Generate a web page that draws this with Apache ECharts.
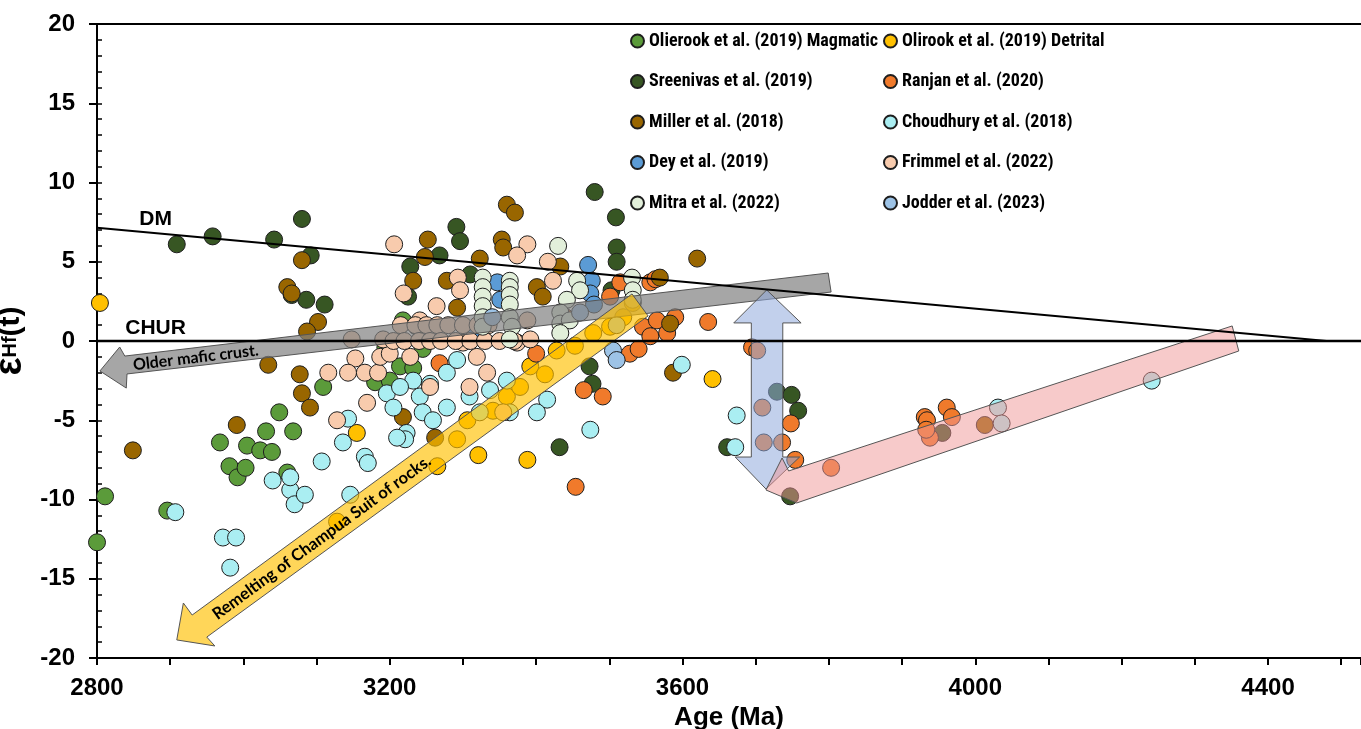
<!DOCTYPE html>
<html>
<head>
<meta charset="utf-8">
<script src="https://cdn.jsdelivr.net/npm/echarts@6/dist/echarts.min.js"></script>
<style>
  html, body { margin: 0; padding: 0; background: #fff; }
  #chart { width: 1361px; height: 729px; }
</style>
</head>
<body>
<div id="chart"></div>
<script>
// εHf(t) vs age: [age Ma, εHf]
const magmatic = [[2800,-12.7],[2811,-9.8],[2896,-10.7],[2968,-6.4],[2981,-7.9],[2992,-8.6],[3003,-8.0],[3005,-6.6],[3023,-6.9],[3031,-5.7],[3039,-7.0],[3049,-4.5],[3060,-8.3],[3068,-5.7],[3109,-2.9],[3180,-2.6],[3194,-0.4],[3214,-1.6],[3200,-2.5],[3232,-1.7],[3218,1.3],[3245,-0.5]]
const detrital = [[2804,2.4],[3155,-5.8],[3128,-11.4],[3265,-7.9],[3321,-7.2],[3388,-7.5],[3641,-2.4],[3292,-6.2],[3306,-5.0],[3341,-4.4],[3360,-3.5],[3378,-2.9],[3392,-1.6],[3412,-2.1],[3428,-0.6],[3453,-0.3],[3478,0.5],[3501,0.9],[3519,1.5],[3532,2.4]]
const sreenivas = [[2909,6.1],[2958,6.6],[3042,6.4],[3080,7.7],[3092,5.4],[3066,2.9],[3086,2.6],[3111,2.3],[3228,4.7],[3291,7.2],[3296,6.3],[3268,5.4],[3310,4.2],[3480,9.4],[3509,7.8],[3510,5.9],[3510,5.0],[3503,3.2],[3473,-1.6],[3477,-2.7],[3432,-6.7],[3661,-6.7],[3729,-3.2],[3749,-3.4],[3758,-4.4],[3747,-9.8],[3955,-5.8],[3225,2.8],[3237,0.9]]
const ranjan = [[3454,-9.2],[3465,-3.1],[3491,-3.5],[3635,1.2],[3695,-0.4],[3702,-0.6],[3709,-4.2],[3711,-6.4],[3736,-6.4],[3748,-5.2],[3754,-7.5],[3803,-8.0],[3931,-4.8],[3934,-5.0],[3961,-4.2],[3968,-4.8],[3938,-6.1],[3933,-5.6],[3515,3.7],[3501,2.8],[3546,0.9],[3565,1.3],[3579,0.5],[3556,0.3],[3528,-0.8],[3556,3.7],[3563,3.9],[3268,-1.4],[3540,-0.5],[3590,1.5],[3400,-0.8],[3440,1.5]]
const miller = [[2849,-6.9],[2991,-5.3],[3034,-1.5],[3080,5.1],[3060,3.4],[3066,3.0],[3102,1.2],[3087,0.6],[3077,-2.1],[3080,-3.3],[3091,-4.2],[3360,8.6],[3371,8.1],[3252,6.4],[3248,5.3],[3232,3.8],[3353,6.4],[3355,5.9],[3323,5.2],[3433,4.7],[3401,3.4],[3409,2.8],[3278,3.8],[3292,2.1],[3569,4.0],[3583,1.1],[3587,-2.0],[3218,-4.8],[3262,-6.1],[3620,5.2],[4013,-5.3]]
const choudhury = [[2907,-10.8],[2972,-12.4],[2990,-12.4],[2982,-14.3],[3040,-8.8],[3064,-9.4],[3070,-10.3],[3084,-9.7],[3146,-9.7],[3143,-4.9],[3136,-6.4],[3107,-7.6],[3064,-8.6],[3166,-7.3],[3170,-7.7],[3196,-3.3],[3205,-4.2],[3223,-5.8],[3241,-3.5],[3255,-2.7],[3278,-2.0],[3292,-1.2],[3278,-4.2],[3309,-3.5],[3323,-4.5],[3337,-3.1],[3360,-2.5],[3364,-4.5],[3415,-3.7],[3401,-4.5],[3474,-5.6],[3599,-1.5],[3674,-4.7],[3672,-6.7],[4031,-4.2],[4036,-5.2],[4241,-2.5],[3232,-2.5],[3214,-2.9],[3245,-4.5],[3259,-5.0],[3221,-6.2],[3210,-6.1]]
const dey = [[3471,4.8],[3476,3.8],[3474,3.0],[3347,3.7],[3351,2.6],[3333,1.1],[3317,0.7],[3479,2.3]]
const frimmel = [[3206,6.1],[3219,3.0],[3388,6.1],[3416,5.0],[3374,5.4],[3153,-1.1],[3143,-2.0],[3116,-2.0],[3166,-2.0],[3184,-2.0],[3128,-5.0],[3169,-3.9],[3187,-1.0],[3293,4.0],[3296,3.2],[3264,2.2],[3423,3.8],[3241,1.3],[3200,-0.8],[3228,-1.0],[3300,-0.1],[3319,-1.0],[3333,-2.0],[3374,-0.1],[3392,0.1],[3388,1.3],[3309,-2.9],[3255,-2.9],[3355,-4.5],[3215,1.0],[3235,1.0],[3250,1.0],[3265,1.0],[3280,1.0],[3300,1.0],[3320,1.0],[3335,1.0],[3148,0.1],[3191,0.1],[3205,0.0],[3220,0.0],[3240,0.0],[3255,0.0],[3270,0.0],[3290,0.0],[3310,0.0],[3330,0.0],[3350,0.0],[3370,0.0]]
const mitra = [[3430,6.0],[3327,4.0],[3327,3.4],[3327,2.8],[3327,2.2],[3327,1.5],[3327,0.9],[3364,3.8],[3364,3.4],[3364,2.9],[3364,2.3],[3364,1.5],[3367,0.9],[3364,0.1],[3456,3.8],[3460,3.2],[3442,2.6],[3433,1.8],[3433,1.1],[3446,1.3],[3433,0.5],[3531,4.0],[3532,3.2],[3532,2.6]]
const jodder = [[3505,-0.6],[3510,-1.2],[3510,1.0],[3340,1.5],[3460,1.8]]

const seriesNames = ['Olierook et al. (2019) Magmatic', 'Olirook et al. (2019) Detrital', 'Sreenivas et al. (2019)', 'Ranjan et al. (2020)', 'Miller et al. (2018)', 'Choudhury et al. (2018)', 'Dey et al. (2019)', 'Frimmel et al. (2022)', 'Mitra et al. (2022)', 'Jodder et al. (2023)']
const seriesData = [magmatic, detrital, sreenivas, ranjan, miller, choudhury, dey, frimmel, mitra, jodder]
const seriesColors = ['#5b9b3a', '#ffc000', '#375623', '#f07a2b', '#996600', '#aaeef2', '#5b9bd5', '#f8cbad', '#e2efda', '#9dc3e6']

// reference lines
const dmLine = [[2800, 7.15], [4480, 0]]
const churLine = [[2800, 0], [4527, 0]]

// annotation arrows, outlined in data units
const grayArrow = [[3799,4.29],[3803,3.09],[2841,-2.08],[2840,-2.97],[2804,-1.89],[2831,-0.38],[2838,-0.95]]
const yellowArrow = [[2909,-18.86],[2961,-19.24],[2950,-18.68],[3553,1.58],[3531,2.97],[2930,-17.29],[2918,-16.53]]
const blueArrow = [[3715,3.22],[3762,1.14],[3737,1.14],[3737,-7.32],[3760,-7.32],[3714,-9.34],[3672,-7.32],[3694,-7.32],[3694,1.14],[3670,1.14]]
const pinkArrow = [[3714,-9.40],[3736,-7.38],[3745,-8.20],[4351,0.95],[4360,-0.63],[3756,-10.22]]

const chart = echarts.init(document.getElementById('chart'))

const boldFont = "'Liberation Sans', Arial, sans-serif"
const legendFont = "Roboto, 'Open Sans', 'Noto Sans', sans-serif"

const scatterSeries = seriesNames.map((name, i) => ({
  name,
  type: 'scatter',
  data: seriesData[i],
  symbolSize: 17,
  itemStyle: { color: seriesColors[i], borderColor: '#1e1e1e', borderWidth: 1, opacity: 1 },
  z: 2
}))

const annotations = {
  type: 'custom',
  data: [[2800, 0]],
  silent: true,
  z: 3,
  renderItem: (params, api) => {
    const poly = (pts, fill) => ({
      type: 'polygon',
      shape: { points: pts.map(p => api.coord(p)) },
      style: { fill, stroke: '#555', lineWidth: 1 }
    })
    const slope = (a, b) => {
      const p = api.coord(a), q = api.coord(b)
      return Math.atan2(p[1] - q[1], q[0] - p[0])
    }
    const label = (pos, text, size, rot, family) => {
      const p = api.coord(pos)
      return {
        type: 'text', x: p[0], y: p[1], rotation: rot || 0,
        style: { text, fill: '#000', font: `bold ${size}px ${family}`, align: 'center', verticalAlign: 'middle' }
      }
    }
    return {
      type: 'group',
      children: [
        poly(grayArrow, 'rgba(128,128,128,0.7)'),
        poly(yellowArrow, 'rgba(255,192,0,0.65)'),
        poly(blueArrow, 'rgba(143,170,220,0.55)'),
        poly(pinkArrow, 'rgba(240,150,150,0.5)'),
        label([2935, -1.05], 'Older mafic crust.', 16, slope(grayArrow[6], grayArrow[0]), 'Lato, sans-serif'),
        label([3107, -12.4], 'Remelting of Champua Suit of rocks.', 16.5, slope(yellowArrow[5], yellowArrow[4]), 'Lato, sans-serif'),
        label([2880, 7.7], 'DM', 21, 0, boldFont),
        label([2880, 0.82], 'CHUR', 21, 0, boldFont)
      ]
    }
  }
}

const legendText = { fontFamily: legendFont, fontWeight: 'bold condensed', fontSize: 18, lineHeight: 22, color: '#000' }

chart.setOption({
  animation: false,
  backgroundColor: '#fff',
  grid: { left: 97, right: 0, top: 24, bottom: 71, outerBoundsMode: 'none', containLabel: false },
  legend: [
    {
      orient: 'vertical', left: 625, top: 25, itemGap: 18.5,
      itemWidth: 13, itemHeight: 13, icon: 'circle', textStyle: legendText,
      data: [seriesNames[0], seriesNames[2], seriesNames[4], seriesNames[6], seriesNames[8]]
    },
    {
      orient: 'vertical', left: 878, top: 25, itemGap: 18.5,
      itemWidth: 13, itemHeight: 13, icon: 'circle', textStyle: legendText,
      data: [seriesNames[1], seriesNames[3], seriesNames[5], seriesNames[7], seriesNames[9]]
    }
  ],
  xAxis: [
    {
      type: 'value', min: 2800, max: 4527, interval: 100,
      axisLine: { onZero: false, lineStyle: { color: '#000', width: 2 } },
      axisTick: { length: 7, lineStyle: { color: '#000', width: 2 } },
      axisLabel: {
        formatter: v => (v % 400 === 0 && v <= 4400) ? String(v) : '',
        color: '#000', fontSize: 24, fontWeight: 'bold', fontFamily: boldFont, margin: 18
      },
      splitLine: { show: false },
      name: 'Age (Ma)', nameLocation: 'middle', nameGap: 43,
      nameTextStyle: { color: '#000', fontSize: 26, fontWeight: 'bold', fontFamily: boldFont }
    },
    {
      type: 'value', position: 'top', min: 2800, max: 4527,
      axisLine: { onZero: false, lineStyle: { color: '#000', width: 2 } },
      axisTick: { show: false }, axisLabel: { show: false }, splitLine: { show: false }
    }
  ],
  yAxis: [
    {
      type: 'value', min: -20, max: 20, interval: 5,
      axisLine: { onZero: false, lineStyle: { color: '#000', width: 2 } },
      axisTick: { length: 8, lineStyle: { color: '#000', width: 2 } },
      axisLabel: { color: '#000', fontSize: 24, fontWeight: 'bold', fontFamily: boldFont, margin: 22 },
      splitLine: { show: false },
      name: '{e|ε}{h|Hf}{t|(t)}', nameLocation: 'middle', nameGap: 55, nameRotate: 90,
      nameTextStyle: {
        rich: {
          e: { fontSize: 38, fontWeight: 'bold', fontFamily: boldFont, color: '#000' },
          h: { fontSize: 20, fontWeight: 'bold', fontFamily: boldFont, color: '#000' },
          t: { fontSize: 30, fontWeight: 'bold', fontFamily: boldFont, color: '#000' }
        }
      }
    },
    {
      type: 'value', position: 'left', min: -20, max: 20, interval: 1,
      axisLine: { show: false },
      axisTick: { inside: true, length: 5, lineStyle: { color: '#000', width: 1.5 } },
      axisLabel: { show: false }, splitLine: { show: false }
    }
  ],
  series: [
    ...scatterSeries,
    annotations,
    { type: 'line', data: dmLine, symbol: 'none', silent: true, z: 4, lineStyle: { color: '#000', width: 2 } },
    { type: 'line', data: churLine, symbol: 'none', silent: true, z: 4, lineStyle: { color: '#000', width: 2.5 } }
  ]
})

window.addEventListener('resize', () => chart.resize())
</script>
</body>
</html>
